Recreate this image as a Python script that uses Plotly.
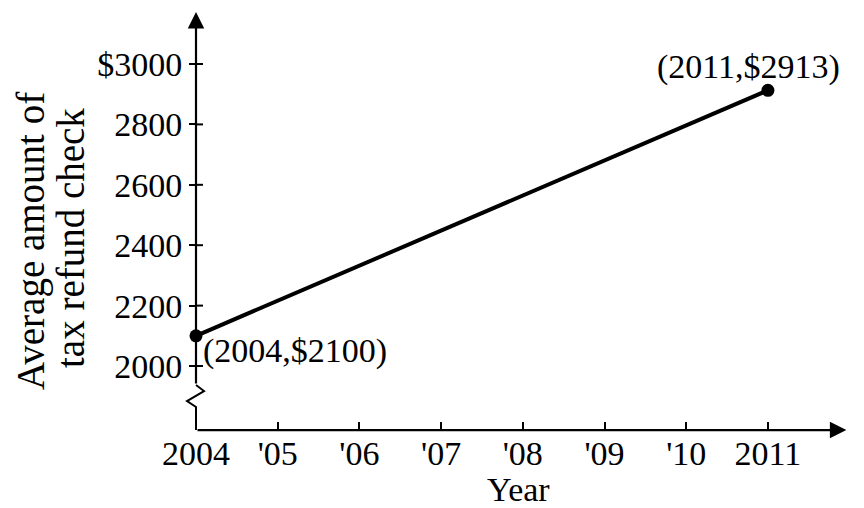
import plotly.graph_objects as go

# ---- data ----
years = [2004, 2011]
refunds = [2100, 2913]
x_tick_vals = [2004, 2005, 2006, 2007, 2008, 2009, 2010, 2011]
x_tick_text = ["2004", "'05", "'06", "'07", "'08", "'09", "'10", "2011"]
y_tick_vals = [2000, 2200, 2400, 2600, 2800, 3000]
y_tick_text = ["2000", "2200", "2400", "2600", "2800", "$3000"]

# ---- layout constants ----
W, H = 864, 508
ML, MR, MT, MB = 150, 4, 4, 60
X_RANGE = [2003.437, 2012.127]
Y_RANGE = [1728.5, 3198.7]
X_AXIS_Y = 1788        # data y where the horizontal axis sits
Y_AXIS_TOP = 3172      # arrow tip of vertical axis
X_AXIS_END = 2011.96   # arrow tip of horizontal axis
FONT = "Liberation Serif"
FS = 34
FS_TITLE = 39

plot_w = W - ML - MR
plot_h = H - MT - MB
px_per_y = plot_h / (Y_RANGE[1] - Y_RANGE[0])

def paper_x(px):
    return (px - ML) / plot_w

def paper_y(py):
    return (H - MB - py) / plot_h

fig = go.Figure()
fig.add_trace(go.Scatter(
    x=years, y=refunds, mode="lines+markers",
    line=dict(color="black", width=4),
    marker=dict(color="black", size=13),
    cliponaxis=False, showlegend=False, hoverinfo="skip",
))

shapes = []
# inner half of y ticks (outer half drawn by axis)
for v in y_tick_vals:
    shapes.append(dict(type="line", xref="x", yref="y", xsizemode="pixel",
                       xanchor=years[0], x0=0, x1=7, y0=v, y1=v,
                       line=dict(color="black", width=2)))
# axis break zigzag + lower part of vertical axis (pixel path anchored at axis corner)
shapes.append(dict(type="path", xref="x", yref="y", xsizemode="pixel", ysizemode="pixel",
                   xanchor=years[0], yanchor=X_AXIS_Y,
                   path="M0,0 L0,23 L-9,29 L8,39 L0,45",
                   line=dict(color="black", width=2)))

break_top = X_AXIS_Y + 45 / px_per_y

annotations = [
    # vertical axis with arrow
    dict(x=years[0], y=Y_AXIS_TOP, ax=years[0], ay=break_top, xref="x", yref="y",
         axref="x", ayref="y", showarrow=True, arrowhead=2, arrowsize=1.5,
         arrowwidth=2.2, arrowcolor="black", text=""),
    # horizontal axis with arrow
    dict(x=X_AXIS_END, y=X_AXIS_Y, ax=years[0], ay=X_AXIS_Y, xref="x", yref="y",
         axref="x", ayref="y", showarrow=True, arrowhead=2, arrowsize=1.5,
         arrowwidth=2.2, arrowcolor="black", text=""),
    # point labels
    dict(x=years[0], y=refunds[0], xref="x", yref="y", showarrow=False,
         text=f"({years[0]},${refunds[0]})", xanchor="left", yanchor="middle",
         xshift=5, yshift=-15, font=dict(family=FONT, size=FS, color="black")),
    dict(x=years[1], y=refunds[1], xref="x", yref="y", showarrow=False,
         text=f"({years[1]},${refunds[1]})", xanchor="center", yanchor="middle",
         xshift=-19, yshift=23, font=dict(family=FONT, size=FS, color="black")),
    # axis titles
    dict(x=paper_x(518), y=paper_y(489), xref="paper", yref="paper", showarrow=False,
         text="Year", xanchor="center", yanchor="middle",
         font=dict(family=FONT, size=FS, color="black")),
    dict(x=paper_x(31), y=paper_y(241), xref="paper", yref="paper", showarrow=False,
         text="Average amount of", textangle=-90, xanchor="center", yanchor="middle",
         font=dict(family=FONT, size=FS_TITLE, color="black")),
    dict(x=paper_x(71), y=paper_y(238), xref="paper", yref="paper", showarrow=False,
         text="tax refund check", textangle=-90, xanchor="center", yanchor="middle",
         font=dict(family=FONT, size=FS_TITLE, color="black")),
]

fig.update_layout(
    width=W, height=H,
    margin=dict(l=ML, r=MR, t=MT, b=MB),
    paper_bgcolor="white", plot_bgcolor="white",
    showlegend=False,
    shapes=shapes, annotations=annotations,
    xaxis=dict(range=X_RANGE, showgrid=False, zeroline=False, showline=False,
               anchor="free", position=paper_y(430),
               tickmode="array", tickvals=x_tick_vals, ticktext=x_tick_text,
               ticks="inside", ticklen=8, tickwidth=2, tickcolor="black",
               tickfont=dict(family=FONT, size=FS, color="black"), fixedrange=True),
    yaxis=dict(range=Y_RANGE, showgrid=False, zeroline=False, showline=False,
               anchor="free", position=paper_x(196),
               tickmode="array", tickvals=y_tick_vals, ticktext=y_tick_text,
               ticks="outside", ticklen=7, tickwidth=2, tickcolor="black",
               tickfont=dict(family=FONT, size=FS, color="black"), fixedrange=True),
)

fig.write_html("out.html")
